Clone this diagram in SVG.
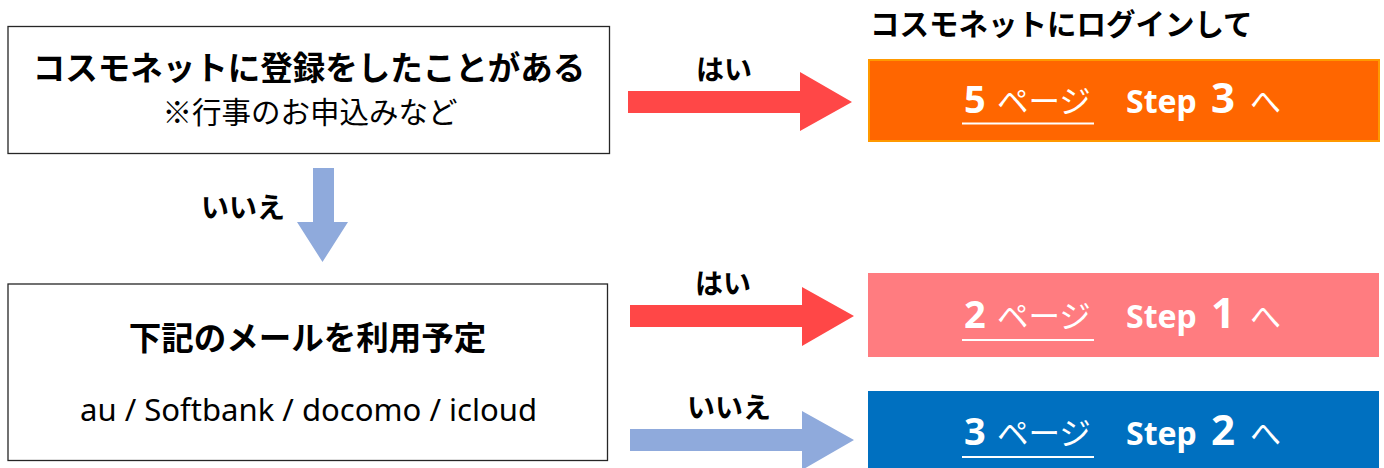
<svg xmlns="http://www.w3.org/2000/svg" width="1384" height="468" viewBox="0 0 1384 468">
<style>
.jp{font-family:"Noto Sans CJK JP","Noto Sans",sans-serif;}
.b{font-weight:bold;}
.box{fill:#fff;stroke:#262626;stroke-width:1.3;}
.w{fill:#fff;}
.lbl{font-family:"Noto Sans CJK JP",sans-serif;font-weight:bold;font-size:28px;fill:#000;text-anchor:middle;}
.ul{stroke:#fff;stroke-width:2;}
.red{fill:#FF4747;}
.blu{fill:#8FAADC;}
.dg{font-family:"Noto Sans",sans-serif;font-weight:bold;fill:#fff;}
.st{font-family:"Noto Sans",sans-serif;font-weight:bold;font-size:32px;fill:#fff;}
</style>
<rect width="1384" height="468" fill="#fff"/>
<text class="jp b" x="870" y="35" font-size="29.5" fill="#000">コスモネットにログインして</text>

<g id="node-q1">
<rect class="box" x="8" y="26.5" width="601.5" height="127"/>
<text class="jp b" x="309" y="80" font-size="32.5" text-anchor="middle" fill="#000">コスモネットに登録をしたことがある</text>
<text class="jp" x="310" y="123" font-size="29.5" text-anchor="middle" fill="#000">※行事のお申込みなど</text>
</g>

<g id="node-q2">
<rect class="box" x="8" y="284" width="599.5" height="176.5"/>
<text class="jp b" x="307.5" y="350" font-size="32.5" text-anchor="middle" fill="#000">下記のメールを利用予定</text>
<text x="80" y="421" font-family="'Noto Sans','Open Sans',sans-serif" font-size="30" textLength="457" lengthAdjust="spacingAndGlyphs" fill="#000">au / Softbank / docomo / icloud</text>
</g>

<g id="node-step3">
<rect x="869" y="60" width="510" height="81" fill="#FF6600" stroke="#FF9900" stroke-width="2"/>
<text class="dg" x="964" y="113" font-size="38">5</text>
<text class="jp w" x="997" y="113" font-size="31.5">ページ</text>
<line class="ul" x1="962" y1="123.5" x2="1094" y2="123.5"/>
<text class="st" x="1126" y="113">Step</text>
<text class="dg" x="1211" y="113" font-size="42">3</text>
<text class="jp w" x="1250" y="113" font-size="31">へ</text>
</g>

<g id="node-step1">
<rect x="868" y="273" width="511" height="84" fill="#FF7C80"/>
<text class="dg" x="964" y="328" font-size="38">2</text>
<text class="jp w" x="997" y="328" font-size="31.5">ページ</text>
<line class="ul" x1="962" y1="340" x2="1094" y2="340"/>
<text class="st" x="1126" y="328">Step</text>
<text class="dg" x="1211" y="328" font-size="42">1</text>
<text class="jp w" x="1250" y="328" font-size="31">へ</text>
</g>

<g id="node-step2">
<rect x="868" y="391" width="511" height="84" fill="#0070C0"/>
<text class="dg" x="964" y="445" font-size="38">3</text>
<text class="jp w" x="997" y="445" font-size="31.5">ページ</text>
<line class="ul" x1="962" y1="457" x2="1094" y2="457"/>
<text class="st" x="1126" y="445">Step</text>
<text class="dg" x="1211" y="445" font-size="42">2</text>
<text class="jp w" x="1250" y="445" font-size="31">へ</text>
</g>

<g id="connectors">
<polygon class="red" points="628,91 800,91 800,72 852,102 800,131 800,113 628,113"/>
<text class="lbl" x="724" y="80">はい</text>
<polygon class="blu" points="313,168 334,168 334,222 348,222 322.5,262 297,222 313,222"/>
<text class="lbl" x="243" y="218" font-size="29.5">いいえ</text>
<polygon class="red" points="630,305 802,305 802,287 854,316 802,346 802,327 630,327"/>
<text class="lbl" x="723" y="294">はい</text>
<polygon class="blu" points="630,429 802,429 802,411 854,440 802,470 802,451 630,451"/>
<text class="lbl" x="729" y="418" font-size="29.5">いいえ</text>
</g>
</svg>
